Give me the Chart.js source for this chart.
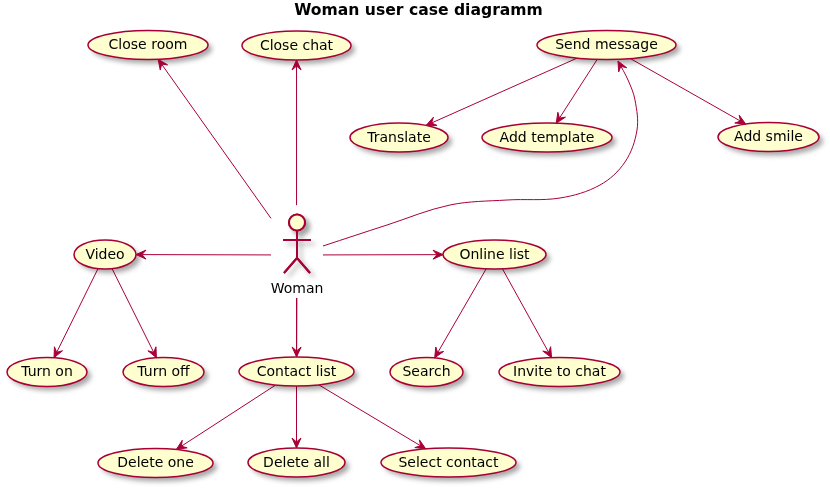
<!DOCTYPE html>
<html>
<head>
<meta charset="utf-8">
<script src="https://cdn.jsdelivr.net/npm/chart.js@4.4.1/dist/chart.umd.min.js"></script>
<style>
  html, body { margin: 0; padding: 0; background: #fff; }
  #wrap { width: 830px; height: 489px; }
</style>
</head>
<body>
<div id="wrap"><canvas id="diagram" width="830" height="489"></canvas></div>
<script>
// Diagram content
const TITLE = 'Woman user case diagramm';
const ACTOR = 'Woman';
const useCases = [
  'Close room', 'Close chat', 'Send message',
  'Translate', 'Add template', 'Add smile',
  'Video', 'Online list',
  'Turn on', 'Turn off', 'Contact list', 'Search', 'Invite to chat',
  'Delete one', 'Delete all', 'Select contact'
];
const edgeFrom = [
  'Woman', 'Woman', 'Woman', 'Woman', 'Woman', 'Woman',
  'Send message', 'Send message', 'Send message',
  'Video', 'Video', 'Online list', 'Online list',
  'Contact list', 'Contact list', 'Contact list'
];
const edgeTo = [
  'Close room', 'Close chat', 'Send message', 'Video', 'Online list', 'Contact list',
  'Translate', 'Add template', 'Add smile',
  'Turn on', 'Turn off', 'Search', 'Invite to chat',
  'Delete one', 'Delete all', 'Select contact'
];

// Layout (diagram units, same as page px)
const caseX  = [148, 296.5, 606.5, 399, 547, 768.5, 105, 494.5, 47, 163.5, 296.5, 426.5, 559.5, 155.5, 296.5, 448.5];
const caseY  = [45, 45.5, 45, 137.5, 137.5, 137, 254.5, 254.5, 372, 372, 371.5, 372, 372, 463, 462.5, 462.5];
const caseRX = [60, 54.5, 69.5, 49, 65, 50.5, 31, 51.5, 40, 40.5, 57.5, 36.5, 60.5, 57.5, 48.5, 67.5];
const CASE_RY = 14.5;
const actorBox = { x: 297, y: 255, left: 271, right: 323, top: 205, bottom: 298 };
// routed spline for Woman -> Send message
const curveVia = [
  [323, 246], [387, 225], [450, 205], [507, 200], [560, 198],
  [600, 185], [625, 162], [637, 130], [635, 100], [628, 80], [618, 61]
];

const LINE = '#A80036';
const FILL = '#FEFECE';
const FONT = '"DejaVu Sans", "Liberation Sans", sans-serif';

function nodeIndex(name) { return useCases.indexOf(name); }

function clipEllipse(i, dx, dy) {
  const t = 1 / Math.sqrt((dx / caseRX[i]) ** 2 + (dy / CASE_RY) ** 2);
  return { x: caseX[i] + dx * t, y: caseY[i] + dy * t };
}

function clipActor(dx, dy) {
  const a = actorBox;
  const ts = [];
  if (dx < 0) ts.push((a.x - a.left) / -dx);
  if (dx > 0) ts.push((a.right - a.x) / dx);
  if (dy < 0) ts.push((a.y - a.top) / -dy);
  if (dy > 0) ts.push((a.bottom - a.y) / dy);
  const t = Math.min(...ts);
  return { x: a.x + dx * t, y: a.y + dy * t };
}

function centerOf(name) {
  if (name === ACTOR) return { x: actorBox.x, y: actorBox.y };
  const i = nodeIndex(name);
  return { x: caseX[i], y: caseY[i] };
}

function endPoint(name, dx, dy) {
  if (name === ACTOR) return clipActor(dx, dy);
  return clipEllipse(nodeIndex(name), dx, dy);
}

// Build one line dataset per edge
const edgeSets = edgeFrom.map((from, k) => {
  const to = edgeTo[k];
  let pts;
  if (from === ACTOR && to === 'Send message') {
    pts = curveVia.map(([x, y]) => ({ x, y }));
  } else {
    const a = centerOf(from), b = centerOf(to);
    const dx = b.x - a.x, dy = b.y - a.y;
    pts = [endPoint(from, dx, dy), endPoint(to, -dx, -dy)];
  }
  return {
    label: from + ' -> ' + to,
    data: pts,
    showLine: true,
    borderColor: LINE,
    borderWidth: 1,
    pointRadius: 0,
    tension: pts.length > 2 ? 0.35 : 0,
    clip: false
  };
});

function arrowHead(ctx, tip, from) {
  let ux = tip.x - from.x, uy = tip.y - from.y;
  const len = Math.hypot(ux, uy) || 1;
  ux /= len; uy /= len;
  const nx = -uy, ny = ux;
  ctx.beginPath();
  ctx.moveTo(tip.x, tip.y);
  ctx.lineTo(tip.x - ux * 10 + nx * 4.5, tip.y - uy * 10 + ny * 4.5);
  ctx.lineTo(tip.x - ux * 6, tip.y - uy * 6);
  ctx.lineTo(tip.x - ux * 10 - nx * 4.5, tip.y - uy * 10 - ny * 4.5);
  ctx.closePath();
  ctx.fillStyle = LINE;
  ctx.fill();
  ctx.strokeStyle = LINE;
  ctx.lineWidth = 1;
  ctx.stroke();
}

function withShadow(ctx, fn) {
  ctx.save();
  ctx.shadowColor = 'rgba(0,0,0,0.35)';
  ctx.shadowBlur = 5;
  ctx.shadowOffsetX = 4;
  ctx.shadowOffsetY = 4;
  fn();
  ctx.restore();
}

const diagramPlugin = {
  id: 'useCaseDiagram',
  afterDatasetsDraw(chart) {
    const ctx = chart.ctx;
    const sx = chart.scales.x, sy = chart.scales.y;
    const px = (v) => sx.getPixelForValue(v);
    const py = (v) => sy.getPixelForValue(v);
    const unit = px(1) - px(0);

    // use case ellipses
    useCases.forEach((name, i) => {
      const cx = px(caseX[i]), cy = py(caseY[i]);
      const rx = caseRX[i] * unit, ry = CASE_RY * unit;
      withShadow(ctx, () => {
        ctx.beginPath();
        ctx.ellipse(cx, cy, rx, ry, 0, 0, Math.PI * 2);
        ctx.fillStyle = FILL;
        ctx.fill();
      });
      ctx.save();
      ctx.beginPath();
      ctx.ellipse(cx, cy, rx, ry, 0, 0, Math.PI * 2);
      ctx.strokeStyle = LINE;
      ctx.lineWidth = 1.5;
      ctx.stroke();
      ctx.fillStyle = '#000';
      ctx.font = '14px ' + FONT;
      ctx.textAlign = 'center';
      ctx.textBaseline = 'middle';
      ctx.fillText(name, cx, cy + 0.5);
      ctx.restore();
    });

    // actor stick figure
    const ax = px(actorBox.x);
    const figure = () => {
      ctx.lineWidth = 2;
      ctx.strokeStyle = LINE;
      ctx.beginPath();
      ctx.moveTo(ax, py(230.5)); ctx.lineTo(ax, py(258));
      ctx.moveTo(ax - 14, py(240)); ctx.lineTo(ax + 14, py(240));
      ctx.moveTo(ax, py(258)); ctx.lineTo(ax - 13, py(273));
      ctx.moveTo(ax, py(258)); ctx.lineTo(ax + 13, py(273));
      ctx.stroke();
      ctx.beginPath();
      ctx.arc(ax, py(222.5), 8, 0, Math.PI * 2);
      ctx.fillStyle = FILL;
      ctx.fill();
      ctx.stroke();
    };
    withShadow(ctx, figure);
    ctx.save(); figure(); ctx.restore();
    ctx.save();
    ctx.fillStyle = '#000';
    ctx.font = '14px ' + FONT;
    ctx.textAlign = 'center';
    ctx.textBaseline = 'middle';
    ctx.fillText(ACTOR, ax, py(289));
    ctx.restore();

    // arrow heads at the target end of each edge
    edgeSets.forEach((ds) => {
      const pts = ds.data;
      const tip = { x: px(pts[pts.length - 1].x), y: py(pts[pts.length - 1].y) };
      const prev = { x: px(pts[pts.length - 2].x), y: py(pts[pts.length - 2].y) };
      ctx.save();
      arrowHead(ctx, tip, prev);
      ctx.restore();
    });

    // title
    ctx.save();
    ctx.fillStyle = '#000';
    ctx.font = 'bold 15.6px ' + FONT;
    ctx.textAlign = 'center';
    ctx.textBaseline = 'middle';
    ctx.fillText(TITLE, px(418.5), py(11));
    ctx.restore();
  }
};

new Chart(document.getElementById('diagram'), {
  type: 'scatter',
  data: { datasets: edgeSets },
  options: {
    responsive: false,
    animation: false,
    events: [],
    layout: { padding: 0 },
    plugins: { legend: { display: false }, tooltip: { enabled: false } },
    scales: {
      x: { type: 'linear', min: 0, max: 830, display: false },
      y: { type: 'linear', min: 0, max: 489, reverse: true, display: false }
    }
  },
  plugins: [diagramPlugin]
});
</script>
</body>
</html>
